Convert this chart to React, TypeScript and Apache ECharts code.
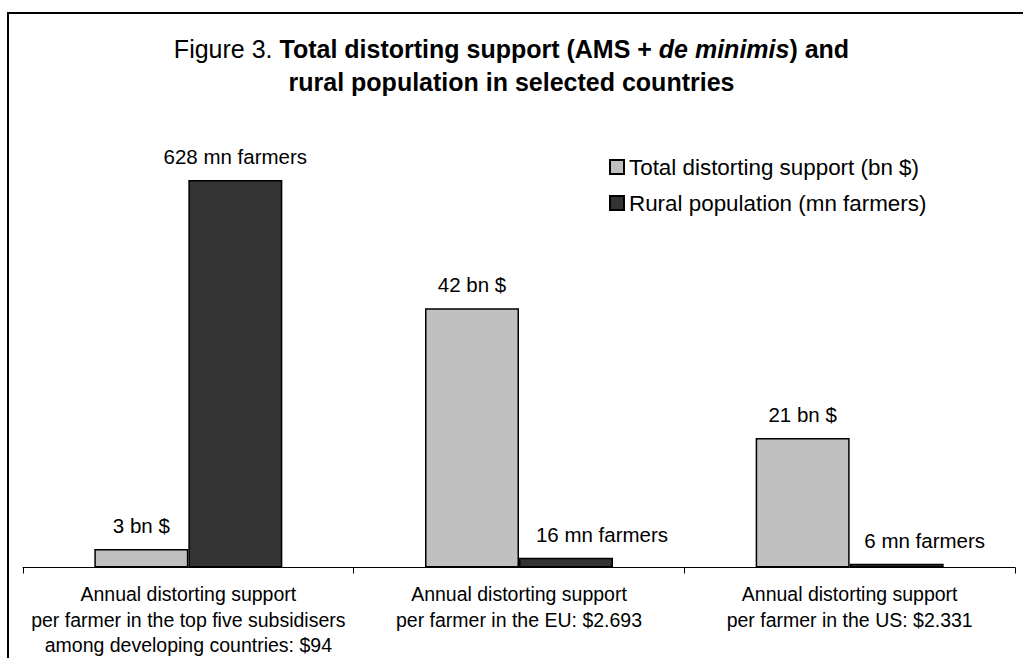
import React, { useEffect, useRef } from "react";
import * as echarts from "echarts";

const categories = [
  "Annual distorting support\nper farmer in the top five subsidisers\namong developing countries: $94",
  "Annual distorting support\nper farmer in the EU: $2.693",
  "Annual distorting support\nper farmer in the US: $2.331",
];
const supportBn = [3, 42, 21];
const ruralMn = [628, 16, 6];
const seriesNames = ["Total distorting support (bn $)", "Rural population (mn farmers)"];

const FONT = "'Liberation Sans', Arial, Helvetica, sans-serif";

export default function App() {
  const ref = useRef<HTMLDivElement>(null);
  useEffect(() => {
    if (!ref.current) return;
    const chart = echarts.init(ref.current, null, { renderer: "svg" });
    const popOffsets: [number, number][] = [[0, 0], [36, 0], [28, 0]];
    chart.setOption({
      animation: false,
      backgroundColor: "#fff",
      title: {
        left: "center",
        top: 32,
        padding: 0,
        text:
          "{n|Figure 3. }{b|Total distorting support (AMS + }{bi|de minimis}{b|) and}\n{b|rural population in selected countries}",
        textStyle: {
          fontFamily: FONT,
          fontSize: 25,
          lineHeight: 33,
          color: "#000",
          rich: {
            n: { fontFamily: FONT, fontSize: 25, lineHeight: 33, color: "#000", fontWeight: "normal" },
            b: { fontFamily: FONT, fontSize: 25, lineHeight: 33, color: "#000", fontWeight: "bold" },
            bi: { fontFamily: FONT, fontSize: 25, lineHeight: 33, color: "#000", fontWeight: "bold", fontStyle: "italic" },
          },
        },
      },
      legend: {
        orient: "vertical",
        left: 609,
        top: 156,
        padding: 0,
        itemWidth: 14,
        itemHeight: 14,
        itemGap: 14,
        icon: "rect",
        textStyle: { fontFamily: FONT, fontSize: 22.4, color: "#000" },
        data: seriesNames,
      },
      graphic: [
        {
          type: "rect",
          shape: { x: 8, y: 13, width: 1200, height: 1000 },
          style: { fill: "none", stroke: "#000", lineWidth: 2 },
          silent: true,
          z: 100,
        },
      ],
      grid: { left: 23, right: 8, top: 135.5, bottom: 87.5, containLabel: false },
      xAxis: {
        type: "category",
        data: categories,
        axisLine: { lineStyle: { color: "#000", width: 1 } },
        axisTick: { show: true, length: 6, lineStyle: { color: "#000", width: 1 } },
        axisLabel: {
          interval: 0,
          fontFamily: FONT,
          fontSize: 19.5,
          lineHeight: 25.5,
          color: "#000",
          margin: 14,
          align: "center",
        },
      },
      yAxis: [
        { type: "value", min: 0, max: 70, show: false, splitLine: { show: false } },
        { type: "value", min: 0, max: 700, show: false, splitLine: { show: false } },
      ],
      series: [
        {
          name: seriesNames[0],
          type: "bar",
          yAxisIndex: 0,
          data: supportBn,
          barWidth: 94,
          barGap: "0%",
          itemStyle: { color: "#C0C0C0", borderColor: "#000", borderWidth: 1.5 },
          label: {
            show: true,
            position: "top",
            distance: 13,
            formatter: "{c} bn $",
            fontFamily: FONT,
            fontSize: 20.5,
            color: "#000",
          },
        },
        {
          name: seriesNames[1],
          type: "bar",
          yAxisIndex: 1,
          data: ruralMn.map((v, i) => ({ value: v, label: { offset: popOffsets[i] } })),
          barWidth: 94,
          barGap: "0%",
          itemStyle: { color: "#333333", borderColor: "#000", borderWidth: 1.5 },
          label: {
            show: true,
            position: "top",
            distance: 13,
            formatter: "{c} mn farmers",
            fontFamily: FONT,
            fontSize: 20.5,
            color: "#000",
          },
        },
      ],
    });
    return () => chart.dispose();
  }, []);
  return (
    <div
      ref={ref}
      style={{ position: "absolute", left: 0, top: 0, width: 1023, height: 658, background: "#fff" }}
    />
  );
}
